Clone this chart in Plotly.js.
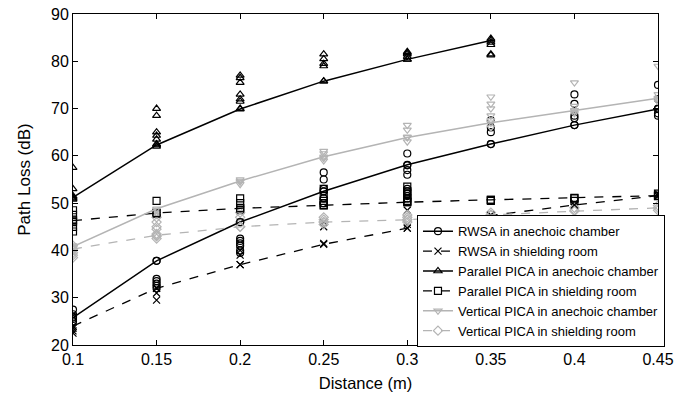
<!DOCTYPE html>
<html>
<head>
<meta charset="utf-8">
<script src="https://cdn.plot.ly/plotly-3.0.1.min.js"></script>
<style>html,body{margin:0;padding:0;background:#fff}#chart{width:677px;height:397px}</style>
</head>
<body>
<div id="chart"></div>
<script>
// Distances (m)
const distances = [0.1, 0.15, 0.2, 0.25, 0.3, 0.35, 0.4, 0.45];
const distancesParallelAnechoic = [0.1, 0.15, 0.2, 0.25, 0.3, 0.35];
const distanceLabels = ['0.1', '0.15', '0.2', '0.25', '0.3', '0.35', '0.4', '0.45'];

// Fitted curves (dB)
const fitRwsaAnechoic = [25.8, 37.8, 46.0, 52.5, 58.1, 62.5, 66.5, 69.9];
const fitRwsaShielding = [24.0, 32.0, 37.0, 41.3, 44.7, 47.4, 49.6, 51.6];
const fitParallelAnechoic = [51.2, 62.3, 69.9, 75.8, 80.4, 84.4];
const fitParallelShielding = [46.3, 47.9, 48.9, 49.6, 50.2, 50.7, 51.1, 51.6];
const fitVerticalAnechoic = [40.8, 48.8, 54.7, 59.8, 63.9, 67.0, 69.6, 72.2];
const fitVerticalShielding = [40.3, 43.2, 45.0, 46.0, 46.5, 47.5, 48.3, 49.0];

// Individual measurements (dB), one list per distance
const measRwsaAnechoic = [
  [27.5, 26.5, 26.0, 25.5, 25.0],
  [37.8, 34.0, 33.5, 33.0, 32.5, 32.0],
  [46.0, 42.5, 42.0, 41.5, 41.0, 40.0, 39.5],
  [56.5, 55.0, 53.0, 52.5, 51.0, 50.0],
  [60.5, 58.0, 57.0, 56.0, 53.0, 52.5, 52.0, 51.5, 51.0],
  [67.5, 66.0, 65.0, 62.5],
  [73.0, 71.0, 68.5, 68.0, 66.5],
  [75.0, 72.0, 70.0, 69.0, 68.5]
];
const measRwsaShielding = [
  [24.0, 23.5, 23.0, 22.5],
  [32.0, 31.0, 29.5],
  [40.0, 39.0, 37.0],
  [46.0, 45.0, 41.5],
  [48.5, 45.5, 44.7],
  [47.5, 46.0],
  [50.0, 49.5],
  [52.0, 51.5]
];
const measParallelAnechoic = [
  [57.5, 53.0, 51.5, 51.0, 50.8],
  [70.0, 68.5, 65.0, 64.3, 63.5, 62.5, 62.0],
  [77.0, 76.5, 75.5, 73.0, 72.0, 71.5, 70.0],
  [81.5, 80.5, 79.5, 79.0, 75.8],
  [82.0, 81.8, 81.5, 81.0, 80.4],
  [84.8, 84.0, 83.5, 81.5, 81.3]
];
const measParallelShielding = [
  [48.5, 47.5, 46.5, 46.0, 45.0, 44.0],
  [50.5, 48.0, 47.8],
  [51.0, 50.0, 49.0, 48.5],
  [53.0, 51.5, 50.5, 50.0, 49.5],
  [53.5, 52.5, 52.0, 51.0, 50.5, 50.2],
  [50.5, 50.7],
  [51.0, 50.5],
  [52.0, 51.5]
];
const measVerticalAnechoic = [
  [41.0, 40.5, 40.0],
  [48.5, 48.0, 47.5],
  [55.0, 54.5, 54.0],
  [61.0, 60.5, 59.5, 59.0],
  [66.5, 65.5, 64.0, 63.0],
  [72.5, 71.0, 70.0, 68.5, 67.5, 66.0],
  [75.5, 70.5, 69.5, 69.0],
  [79.0, 73.0, 72.0, 71.5]
];
const measVerticalShielding = [
  [41.0, 40.0, 39.5, 39.0, 38.5],
  [47.0, 46.0, 45.0, 44.5, 43.5, 43.0, 42.5],
  [48.0, 47.0, 46.0, 45.0],
  [47.0, 46.5, 46.0, 45.5],
  [47.5, 47.0, 46.5, 46.0],
  [48.0, 47.5],
  [49.0, 48.5],
  [49.5, 48.5]
];

const seriesNames = [
  'RWSA in anechoic chamber',
  'RWSA in shielding room',
  'Parallel PICA in anechoic chamber',
  'Parallel PICA in shielding room',
  'Vertical PICA in anechoic chamber',
  'Vertical PICA in shielding room'
];

const BLACK = '#000000';
const GRAY = '#b4b4b4';

const series = [
  {name: seriesNames[0], x: distances, fit: fitRwsaAnechoic, meas: measRwsaAnechoic, color: BLACK, dash: 'solid', symbol: 'circle-open', lw: 1.5},
  {name: seriesNames[1], x: distances, fit: fitRwsaShielding, meas: measRwsaShielding, color: BLACK, dash: 'dash', symbol: 'x-thin-open', lw: 1.3},
  {name: seriesNames[2], x: distancesParallelAnechoic, fit: fitParallelAnechoic, meas: measParallelAnechoic, color: BLACK, dash: 'solid', symbol: 'triangle-up-open', lw: 1.5},
  {name: seriesNames[3], x: distances, fit: fitParallelShielding, meas: measParallelShielding, color: BLACK, dash: 'dash', symbol: 'square-open', lw: 1.3},
  {name: seriesNames[4], x: distances, fit: fitVerticalAnechoic, meas: measVerticalAnechoic, color: GRAY, dash: 'solid', symbol: 'triangle-down-open', lw: 1.5},
  {name: seriesNames[5], x: distances, fit: fitVerticalShielding, meas: measVerticalShielding, color: GRAY, dash: 'dash', symbol: 'diamond-open', lw: 1.3}
];

const traces = [];
series.forEach(s => {
  const mx = [], my = [];
  s.meas.forEach((vals, i) => vals.forEach(v => { mx.push(s.x[i]); my.push(v); }));
  traces.push({
    x: mx, y: my, type: 'scatter', mode: 'markers', showlegend: false, hoverinfo: 'skip',
    marker: {symbol: s.symbol, size: 7, color: s.color, line: {color: s.color, width: 1.2}}
  });
});
series.forEach(s => {
  traces.push({
    x: s.x, y: s.fit, type: 'scatter', mode: 'lines+markers', name: s.name,
    line: {color: s.color, width: s.lw, dash: s.dash},
    marker: {symbol: s.symbol, size: 7, color: s.color, line: {color: s.color, width: 1.2}}
  });
});

const layout = {
  width: 677, height: 397,
  margin: {l: 73, r: 17, t: 14, b: 52},
  paper_bgcolor: '#ffffff', plot_bgcolor: '#ffffff',
  font: {family: 'Liberation Sans, Arial, sans-serif', color: '#000', size: 16},
  showlegend: true,
  legend: {
    x: 0.588, y: 0.392, xanchor: 'left', yanchor: 'top',
    bgcolor: '#ffffff', bordercolor: '#000', borderwidth: 1,
    font: {size: 13, family: 'Liberation Sans, Arial, sans-serif'},
    tracegroupgap: 0, itemwidth: 30
  },
  xaxis: {
    range: [0.1, 0.45], tickvals: distances, ticktext: distanceLabels,
    showgrid: false, zeroline: false, showline: true, linecolor: '#000', linewidth: 1,
    mirror: 'ticks', ticks: 'inside', ticklen: 5, tickcolor: '#000',
    tickfont: {size: 16},
    title: {text: 'Distance (m)', font: {size: 16.5}, standoff: 10}
  },
  yaxis: {
    range: [20, 90], dtick: 10, tick0: 20,
    showgrid: false, zeroline: false, showline: true, linecolor: '#000', linewidth: 1,
    mirror: 'ticks', ticks: 'inside', ticklen: 5, tickcolor: '#000',
    tickfont: {size: 16},
    title: {text: 'Path Loss (dB)', font: {size: 17}, standoff: 16}
  }
};

Plotly.newPlot('chart', traces, layout, {displayModeBar: false, staticPlot: true});
</script>
</body>
</html>
